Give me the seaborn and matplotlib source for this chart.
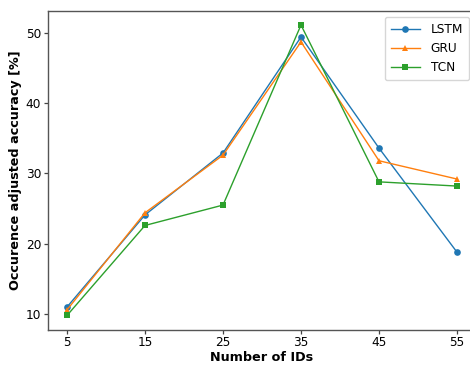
import matplotlib
matplotlib.use("Agg")
import matplotlib.pyplot as plt
import seaborn as sns
import pandas as pd

num_ids = [5, 15, 25, 35, 45, 55]
lstm = [11.0, 24.1, 32.9, 49.4, 33.6, 18.8]
gru = [10.6, 24.4, 32.6, 48.7, 31.8, 29.2]
tcn = [9.8, 22.6, 25.5, 51.1, 28.8, 28.2]
models = ["LSTM", "GRU", "TCN"]

df = pd.DataFrame({
    "ids": num_ids * 3,
    "acc": lstm + gru + tcn,
    "model": [m for m in models for _ in num_ids],
})

plt.rcParams["font.family"] = ["DejaVu Sans"]
fig, ax = plt.subplots(figsize=(4.7, 3.65), dpi=100)
palette = {"LSTM": "#1f77b4", "GRU": "#ff7f0e", "TCN": "#2ca02c"}
markers = {"LSTM": "o", "GRU": "^", "TCN": "s"}
sns.lineplot(data=df, x="ids", y="acc", hue="model", style="model",
             markers=markers, dashes=False, palette=palette,
             markersize=4.8, linewidth=1.0, markeredgewidth=0, ax=ax)
ax.set_xticks(num_ids)
ax.set_xlabel("Number of IDs", fontweight="bold", fontsize=9.2, labelpad=1)
ax.set_ylabel("Occurence adjusted accuracy [%]", fontweight="bold", fontsize=9.2, labelpad=3)
ax.tick_params(labelsize=8.7, color="#444444", width=0.9, length=3, pad=1.5)
for s in ax.spines.values():
    s.set_color("#555555")
    s.set_linewidth(1.0)
leg = ax.legend(loc="upper right", fontsize=8.7, borderpad=0.5, handlelength=2.4,
                handletextpad=0.9, bbox_to_anchor=(469 / 470, 1 - 17 / 365),
                bbox_transform=fig.transFigure, borderaxespad=0)
leg.set_title(None)
fig.subplots_adjust(left=47.5 / 470, right=476.5 / 470, top=1 - 10.5 / 365, bottom=1 - 330 / 365)
fig.savefig("out.png", dpi=100)
